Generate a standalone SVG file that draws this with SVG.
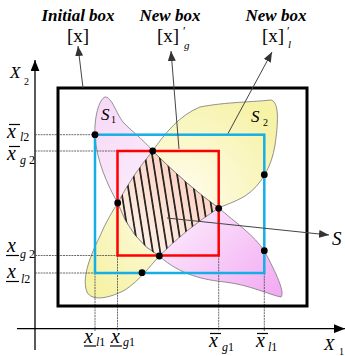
<svg xmlns="http://www.w3.org/2000/svg" width="345" height="356" viewBox="0 0 345 356">
<style>
text{font-family:'Liberation Serif','DejaVu Serif',serif;fill:#000}
.it{font-style:italic}
.bi{font-style:italic;font-weight:bold;font-size:17px}
.grid{stroke:#444;stroke-width:0.8;stroke-dasharray:2 0.8;fill:none}
.blob{stroke:#777;stroke-width:0.8}
.dot{fill:#000}
.lead{stroke:#444;stroke-width:1;fill:none}
.bar{stroke:#000;stroke-width:1.2}
</style>
<defs>
<linearGradient id="g1" x1="100" y1="100" x2="285" y2="295" gradientUnits="userSpaceOnUse">
<stop offset="0" stop-color="#f6d8f6"/><stop offset="0.45" stop-color="#fdf0fd"/><stop offset="1" stop-color="#f2a8f2"/>
</linearGradient>
<radialGradient id="g2" cx="180" cy="200" r="120" gradientUnits="userSpaceOnUse">
<stop offset="0" stop-color="#fffdf0"/><stop offset="1" stop-color="#f6f2a6"/>
</radialGradient>
<linearGradient id="g3" x1="200" y1="170" x2="130" y2="250" gradientUnits="userSpaceOnUse">
<stop offset="0" stop-color="#fbcfc0"/><stop offset="1" stop-color="#fff4ea"/>
</linearGradient>
<pattern id="hatch" width="7.2" height="20" patternUnits="userSpaceOnUse" patternTransform="rotate(-9)">
<line x1="3.6" y1="-2" x2="3.6" y2="22" stroke="#000" stroke-width="1.5"/>
</pattern>
<clipPath id="hc"><path d="M117.7,203 Q133,174 152.7,151 Q188,186 218.7,208 Q186,229 159.3,256 Q131.5,240.5 117.7,203 Z"/></clipPath>
<marker id="ah" viewBox="0 0 10 8" refX="10" refY="4" markerWidth="10" markerHeight="8" markerUnits="userSpaceOnUse" orient="auto">
<path d="M0,0 L10,4 L0,8 Z" fill="#333"/>
</marker>
<marker id="ax" viewBox="0 0 10 8" refX="10" refY="4" markerWidth="11" markerHeight="9" markerUnits="userSpaceOnUse" orient="auto">
<path d="M0,0 L10,4 L0,8 Z" fill="#000"/>
</marker>
</defs>

<g id="axes" font-family="Liberation Serif, DejaVu Serif, serif">
<line x1="35" y1="350" x2="35" y2="60" stroke="#000" stroke-width="1.3" marker-end="url(#ax)"/>
<line x1="17" y1="328.7" x2="345" y2="328.7" stroke="#000" stroke-width="1.3" marker-end="url(#ax)"/>
<text class="it" x="10" y="78" font-size="17">X</text>
<text x="24" y="85" font-size="10">2</text>
<text class="it" x="324" y="350" font-size="17">X</text>
<text x="339" y="355" font-size="10">1</text>
</g>

<g id="S2" font-family="Liberation Serif, DejaVu Serif, serif">
<path class="blob" fill="url(#g2)" d="M117.7,203 Q133,174 152.7,151 C165,133 180,115 200,107 C225,102 255,102 270,100 C280,100 278,125 275,145 C272,165 262,185 245,196 C235,202 225,205 218.7,208 Q186,229 159.3,256 C150,266 140,280 125,290 C110,298 92,302 87,292 C82,280 88,260 100,236 C106,222 112,212 117.7,203 Z"/>
<text class="it" x="251" y="122" font-size="17">S</text>
<text x="263" y="126" font-size="10">2</text>
</g>

<g id="S1" font-family="Liberation Serif, DejaVu Serif, serif">
<path class="blob" fill="url(#g1)" d="M105,97 C112,97 116,113 123,122 C130,130 142,138 152.7,151 Q188.3,186.5 218.7,208 C235,222 255,236 264.3,251 C272,265 286,292 281,297 C270,295 250,285 225,282 C205,280 180,275 159.3,256 Q131.5,240.5 117.7,203 C108,186 96,160 95,135 C94,118 99,99 105,97 Z"/>
<text class="it" x="101" y="120" font-size="17">S</text>
<text x="111" y="123" font-size="10">1</text>
</g>

<g id="S">
<path d="M117.7,203 Q133,174 152.7,151 Q188.3,186.5 218.7,208 Q186,229 159.3,256 Q131.5,240.5 117.7,203 Z" fill="url(#g3)" stroke="#777" stroke-width="0.8"/>
<rect x="110" y="145" width="115" height="115" fill="url(#hatch)" clip-path="url(#hc)"/>
</g>

<g id="gridlines">
<line class="grid" x1="35" y1="134.7" x2="95" y2="134.7"/>
<line class="grid" x1="35" y1="151" x2="117.5" y2="151"/>
<line class="grid" x1="35" y1="255.5" x2="117.5" y2="255.5"/>
<line class="grid" x1="35" y1="273" x2="95" y2="273"/>
<line class="grid" x1="95" y1="273" x2="95" y2="331"/>
<line class="grid" x1="117.5" y1="255.5" x2="117.5" y2="331"/>
<line class="grid" x1="218.7" y1="255.5" x2="218.7" y2="331"/>
<line class="grid" x1="264.3" y1="273" x2="264.3" y2="331"/>
</g>

<g id="initial-box">
<rect x="58" y="88" width="249" height="218" fill="none" stroke="#000" stroke-width="3"/>
</g>
<g id="box-l">
<rect x="95" y="134.7" width="169.3" height="138.3" fill="none" stroke="#17aee6" stroke-width="2.5"/>
</g>
<g id="box-g">
<rect x="117.5" y="151" width="101.2" height="104.5" fill="none" stroke="#ff0000" stroke-width="2.5"/>
</g>

<g id="dots">
<circle class="dot" cx="95" cy="134.7" r="3.4"/>
<circle class="dot" cx="152.7" cy="151" r="3.4"/>
<circle class="dot" cx="117.7" cy="203" r="3.4"/>
<circle class="dot" cx="159.3" cy="256" r="3.4"/>
<circle class="dot" cx="142" cy="272.7" r="3.4"/>
<circle class="dot" cx="264.3" cy="174.7" r="3.4"/>
<circle class="dot" cx="218.7" cy="208.3" r="3.4"/>
<circle class="dot" cx="264.3" cy="250.7" r="3.4"/>
</g>

<g id="connectors">
<line class="lead" x1="83" y1="88" x2="78" y2="46" marker-end="url(#ah)"/>
<line class="lead" x1="179" y1="149" x2="171" y2="51" marker-end="url(#ah)"/>
<line class="lead" x1="228" y1="133.5" x2="272" y2="52" marker-end="url(#ah)"/>
<line class="lead" x1="167" y1="218" x2="329" y2="235" marker-end="url(#ah)"/>
</g>

<g id="labels-top" font-family="Liberation Serif, DejaVu Serif, serif">
<text class="bi" x="78" y="21" text-anchor="middle">Initial box</text>
<text x="78" y="42" font-size="19" text-anchor="middle">[x]</text>
<text class="bi" x="170" y="21" text-anchor="middle">New box</text>
<text x="157" y="42" font-size="19">[x]</text>
<text x="183" y="35" font-size="12">′</text>
<text class="it" x="184" y="49" font-size="11">g</text>
<text class="bi" x="276" y="21" text-anchor="middle">New box</text>
<text x="262" y="42" font-size="19">[x]</text>
<text x="287" y="35" font-size="12">′</text>
<text class="it" x="288" y="48" font-size="11">l</text>
<text class="it" x="332" y="245" font-size="19">S</text>
</g>

<g id="labels-y" font-family="Liberation Serif, DejaVu Serif, serif">
<text class="it" x="7" y="138" font-size="20">x</text>
<line class="bar" x1="9" y1="124.5" x2="20" y2="124.5"/>
<text x="20" y="141" font-size="12"><tspan font-style="italic">l</tspan>2</text>
<text class="it" x="7" y="160" font-size="20">x</text>
<line class="bar" x1="9" y1="146.5" x2="20" y2="146.5"/>
<text x="20" y="164" font-size="12"><tspan font-style="italic">g</tspan> 2</text>
<text class="it" x="7" y="252" font-size="20">x</text>
<line class="bar" x1="6" y1="255.5" x2="19" y2="255.5"/>
<text x="20" y="258" font-size="12"><tspan font-style="italic">g</tspan> 2</text>
<text class="it" x="7" y="278" font-size="20">x</text>
<line class="bar" x1="6" y1="281.5" x2="19" y2="281.5"/>
<text x="21" y="283" font-size="12"><tspan font-style="italic">l</tspan>2</text>
</g>

<g id="labels-x" font-family="Liberation Serif, DejaVu Serif, serif">
<text class="it" x="84" y="343" font-size="20">x</text>
<line class="bar" x1="84" y1="346" x2="96" y2="346"/>
<text x="96" y="346" font-size="12"><tspan font-style="italic">l</tspan>1</text>
<text class="it" x="111" y="343" font-size="20">x</text>
<line class="bar" x1="110" y1="346" x2="122" y2="346"/>
<text x="123" y="346" font-size="12"><tspan font-style="italic">g</tspan>1</text>
<text class="it" x="209" y="347" font-size="20">x</text>
<line class="bar" x1="210" y1="333.5" x2="221" y2="333.5"/>
<text x="222" y="351" font-size="12"><tspan font-style="italic">g</tspan>1</text>
<text class="it" x="256" y="347" font-size="20">x</text>
<line class="bar" x1="257" y1="333.5" x2="268" y2="333.5"/>
<text x="268" y="351" font-size="12"><tspan font-style="italic">l</tspan>1</text>
</g>
</svg>
